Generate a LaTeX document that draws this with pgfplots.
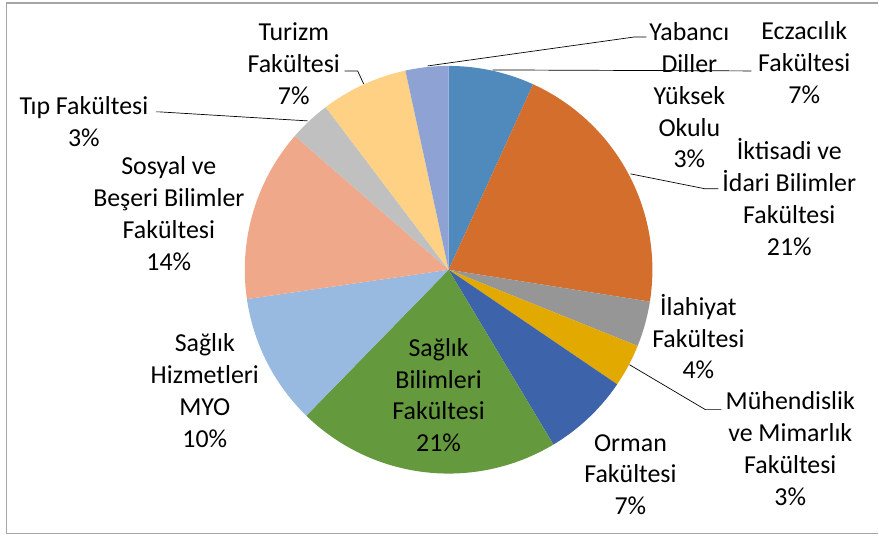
\documentclass[border=0pt]{standalone}
\usepackage{pgfplots}
\pgfplotsset{compat=1.18}
\usepackage{fontspec}
\setmainfont{Carlito}
\definecolor{cEcz}{RGB}{80,137,188}
\definecolor{cIib}{RGB}{211,110,45}
\definecolor{cIla}{RGB}{150,150,150}
\definecolor{cMuh}{RGB}{226,170,0}
\definecolor{cOrm}{RGB}{61,100,171}
\definecolor{cSbf}{RGB}{100,153,62}
\definecolor{cShm}{RGB}{152,185,224}
\definecolor{cSos}{RGB}{240,168,139}
\definecolor{cTip}{RGB}{192,192,192}
\definecolor{cTur}{RGB}{254,209,133}
\definecolor{cYab}{RGB}{143,162,212}
\definecolor{cBord}{RGB}{165,165,165}
\tikzset{lab/.style={font=\fontsize{26}{32}\selectfont, align=center, inner sep=0pt, text=black}}
\newcommand\cum{0}
\newcommand\slice[2]{%
 \pgfmathsetmacro\sa{\cum*3.6}%
 \pgfmathsetmacro\sb{(\cum+#1)*3.6}%
 \edef\tmp{\noexpand\addplot[fill=#2,draw=none,domain=\sa:\sb,samples=60] ({449+204*sin(x)},{270-204*cos(x)}) -- (axis cs:449,270) -- cycle;}%
 \tmp
 \pgfmathsetmacro\newcum{\cum+#1}\global\let\cum\newcum}
\begin{document}
\begin{tikzpicture}
\begin{axis}[
  width=879bp, height=536bp, scale only axis,
  xmin=0, xmax=879, ymin=0, ymax=536, y dir=reverse,
  xtick=\empty, ytick=\empty,
  axis line style={draw=none},
  clip=false,
]
% outer chart border (right edge cut off in the reference)
\addplot[cBord, line width=1.6bp] coordinates {(879,3) (6.5,3) (6.5,534) (879,534)};
% percentages (clockwise from 12 o'clock)
\slice{6.8}{cEcz}
\slice{20.7}{cIib}
\slice{3.6}{cIla}
\slice{3.4}{cMuh}
\slice{6.9}{cOrm}
\slice{20.9}{cSbf}
\slice{10.4}{cShm}
\slice{13.7}{cSos}
\slice{3.3}{cTip}
\slice{6.9}{cTur}
\slice{3.4}{cYab}
% leader lines
\addplot[black, line width=0.7pt] coordinates {(428,66) (635,37) (647,37)};
\addplot[black, line width=0.7pt] coordinates {(493,70) (752,71)};
\addplot[black, line width=0.7pt] coordinates {(631,174) (706,189) (719,189)};
\addplot[black, line width=0.7pt] coordinates {(630,365) (706,410) (722,410)};
\addplot[black, line width=0.7pt] coordinates {(308,121) (160,112) (156,112)};
\addplot[black, line width=0.7pt] coordinates {(364,84) (358,71) (345,71)};
% labels
\node[lab] at (axis cs:690,95.5) {Yabancı\\Diller\\Yüksek\\Okulu\\3\%};
\node[lab] at (axis cs:805,63) {Eczacılık\\Fakültesi\\7\%};
\node[lab] at (axis cs:790,197) {İktisadi ve\\İdari Bilimler\\Fakültesi\\21\%};
\node[lab] at (axis cs:699,337) {İlahiyat\\Fakültesi\\4\%};
\node[lab] at (axis cs:791,449) {Mühendislik\\ve Mimarlık\\Fakültesi\\3\%};
\node[lab] at (axis cs:631,475) {Orman\\Fakültesi\\7\%};
\node[lab] at (axis cs:439,395.5) {Sağlık\\Bilimleri\\Fakültesi\\21\%};
\node[lab] at (axis cs:205,391) {Sağlık\\Hizmetleri\\MYO\\10\%};
\node[lab] at (axis cs:169,214) {Sosyal ve\\Beşeri Bilimler\\Fakültesi\\14\%};
\node[lab] at (axis cs:84,121.5) {Tıp Fakültesi\\3\%};
\node[lab] at (axis cs:294,63.5) {Turizm\\Fakültesi\\7\%};
\end{axis}
\end{tikzpicture}
\end{document}
